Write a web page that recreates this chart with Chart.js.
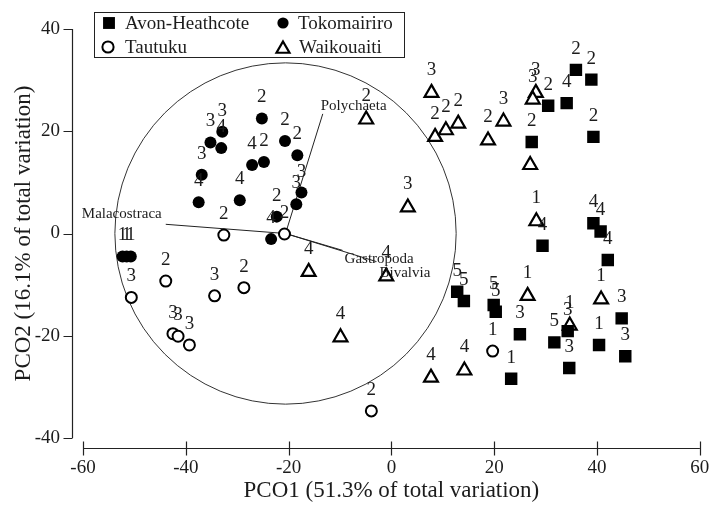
<!DOCTYPE html>
<html>
<head>
<meta charset="utf-8">
<script src="https://cdn.jsdelivr.net/npm/chart.js@4.4.0/dist/chart.umd.min.js"></script>
<style>
  html, body { margin: 0; padding: 0; background: #fff; }
  #wrap { width: 710px; height: 505px; }
</style>
</head>
<body>
<div id="wrap"><canvas id="chart"></canvas></div>
<script>
// PCO ordination, four estuaries; point labels are the site numbers
var avonX = [35.9, 38.9, 34.1, 30.5, 39.3, 27.3, 39.3, 40.7, 42.1, 29.4, 12.8, 14.1, 19.9, 20.3, 25.0, 31.7, 34.3, 34.6, 40.4, 44.8, 45.5, 23.3];
var avonY = [32.0, 30.1, 25.5, 25.0, 18.9, 17.9, 2.0, 0.4, -5.2, -2.4, -11.4, -13.2, -14.0, -15.3, -19.7, -21.3, -19.1, -26.3, -21.8, -16.6, -24.0, -28.4];
var avonLbl = ['2', '2', '4', '2', '2', '2', '4', '4', '4', '4', '5', '5', '5', '5', '3', '5', '3', '3', '1', '3', '3', '1'];

var tokoX = [-25.2, -32.9, -35.2, -33.1, -20.7, -18.3, -24.8, -27.1, -36.9, -37.5, -29.5, -17.5, -18.5, -22.3, -23.4, -52.3, -51.5, -50.7];
var tokoY = [22.5, 19.9, 17.8, 16.7, 18.1, 15.3, 14.0, 13.4, 11.5, 6.1, 6.5, 8.0, 5.7, 3.3, -1.1, -4.5, -4.5, -4.5];
var tokoLbl = ['2', '3', '3', '4', '2', '2', '2', '4', '3', '4', '4', '3', '3', '2', '4', '1', '1', '1'];

var tautX = [-32.6, -20.8, -43.9, -50.6, -34.4, -28.7, -42.5, -41.5, -39.3, -3.9, 19.7];
var tautY = [-0.3, -0.1, -9.3, -12.5, -12.2, -10.6, -19.6, -20.1, -21.8, -34.7, -23.0];
var tautLbl = ['2', '2', '2', '3', '3', '2', '3', '3', '3', '2', '1'];

var waikX = [7.8, 8.5, 10.6, 13.0, 18.8, 21.8, 28.1, 27.5, 27.0, 3.2, -4.9, -16.1, -9.9, -1.0, 28.2, 26.5, 40.8, 34.7, 7.7, 14.2];
var waikY = [27.5, 18.9, 20.2, 21.5, 18.2, 21.9, 27.5, 26.2, 13.4, 5.1, 22.3, -7.5, -20.3, -8.4, 2.4, -12.2, -12.9, -18.0, -28.2, -26.8];
var waikLbl = ['3', '2', '2', '2', '2', '3', '3', '3', '', '3', '2', '4', '4', '4', '1', '1', '1', '1', '4', '4'];

// vector overlay (correlation circle)
var vecNames = ['Polychaeta', 'Malacostraca', 'Gastropoda', 'Bivalvia'];
var vecX = [-13.35, -43.9, -9.5, -2.9];
var vecY = [23.4, 1.8, -3.3, -5.5];
var circleX = -20.6;
var circleY = 0;
var circleR = 33.2;

var xTitle = 'PCO1 (51.3% of total variation)';
var yTitle = 'PCO2 (16.1% of total variation)';

var FONT = '"Liberation Serif", "Times New Roman", serif';
var INK = '#1c1c1c';

function pts(xs, ys) {
  return xs.map(function (x, i) { return { x: x, y: ys[i] }; });
}

var datasets = [
  { label: 'Avon-Heathcote', data: pts(avonX, avonY), pointLabels: avonLbl, labelOff: 21,
    pointStyle: 'rect', pointRadius: 8.8, backgroundColor: '#000', borderColor: '#000', borderWidth: 0, order: 1 },
  { label: 'Tokomairiro', data: pts(tokoX, tokoY), pointLabels: tokoLbl, labelOff: 21,
    pointStyle: 'circle', pointRadius: 6, backgroundColor: '#000', borderColor: '#000', borderWidth: 0, order: 1 },
  { label: 'Tautuku', data: pts(tautX, tautY), pointLabels: tautLbl, labelOff: 21,
    pointStyle: 'circle', pointRadius: 5.5, backgroundColor: '#fff', borderColor: '#000', borderWidth: 2, order: 1 },
  { label: 'Waikouaiti', data: pts(waikX, waikY), pointLabels: waikLbl, labelOff: 23,
    pointStyle: 'triangle', pointRadius: 8, backgroundColor: '#fff', borderColor: '#000', borderWidth: 2.2, order: 1 }
];

vecNames.forEach(function (name, i) {
  datasets.push({
    type: 'line', label: name, vecName: name,
    data: [{ x: circleX, y: circleY }, { x: vecX[i], y: vecY[i] }],
    borderColor: '#222', borderWidth: 1, pointRadius: 0, fill: false, order: 5
  });
});

// circle drawn from its centre/radius through the scales
var circlePlugin = {
  id: 'circle',
  beforeDatasetsDraw: function (chart) {
    var ctx = chart.ctx, sx = chart.scales.x, sy = chart.scales.y;
    var cx = sx.getPixelForValue(circleX), cy = sy.getPixelForValue(circleY);
    var r = sx.getPixelForValue(circleX + circleR) - cx;
    ctx.save();
    ctx.strokeStyle = '#333';
    ctx.lineWidth = 1;
    ctx.beginPath();
    ctx.arc(cx, cy, r, 0, Math.PI * 2);
    ctx.stroke();
    ctx.restore();
  }
};

var labelPlugin = {
  id: 'labels',
  afterDatasetsDraw: function (chart) {
    var ctx = chart.ctx;
    ctx.save();
    ctx.fillStyle = INK;
    chart.data.datasets.forEach(function (ds, i) {
      var meta = chart.getDatasetMeta(i);
      if (ds.pointLabels) {
        ctx.font = '19px ' + FONT;
        ctx.textAlign = 'center';
        ctx.textBaseline = 'middle';
        meta.data.forEach(function (el, j) {
          var t = ds.pointLabels[j];
          if (t) ctx.fillText(t, el.x, el.y - ds.labelOff);
        });
      }
      if (ds.vecName) {
        var tip = meta.data[1];
        ctx.font = '15px ' + FONT;
        ctx.textBaseline = 'middle';
        if (ds.vecName == 'Polychaeta') {
          ctx.textAlign = 'left'; ctx.fillText(ds.vecName, tip.x - 2, tip.y - 8);
        } else if (ds.vecName == 'Malacostraca') {
          ctx.textAlign = 'right'; ctx.fillText(ds.vecName, tip.x - 4, tip.y - 10);
        } else if (ds.vecName == 'Gastropoda') {
          ctx.textAlign = 'left'; ctx.fillText(ds.vecName, tip.x + 2, tip.y + 9);
        } else {
          ctx.textAlign = 'left'; ctx.fillText(ds.vecName, tip.x + 3, tip.y + 11);
        }
      }
    });
    ctx.restore();
  }
};

// axes sit a little away from the plotting region
var axesPlugin = {
  id: 'axes',
  afterDraw: function (chart) {
    var ctx = chart.ctx, area = chart.chartArea, sx = chart.scales.x, sy = chart.scales.y;
    var ax = Math.round(area.left - 11) + 0.5;
    var ay = Math.round(area.bottom + 10) + 0.5;
    ctx.save();
    ctx.strokeStyle = '#222';
    ctx.lineWidth = 1.2;
    ctx.beginPath();
    ctx.moveTo(ax, sy.getPixelForValue(40));
    ctx.lineTo(ax, sy.getPixelForValue(-40));
    sy.ticks.forEach(function (t) {
      var p = Math.round(sy.getPixelForValue(t.value)) + 0.5;
      ctx.moveTo(ax - 9, p);
      ctx.lineTo(ax, p);
    });
    ctx.moveTo(sx.getPixelForValue(-60), ay);
    ctx.lineTo(sx.getPixelForValue(60), ay);
    sx.ticks.forEach(function (t) {
      var p = Math.round(sx.getPixelForValue(t.value)) + 0.5;
      ctx.moveTo(p, ay - 7);
      ctx.lineTo(p, ay + 7);
    });
    ctx.stroke();
    ctx.restore();
  }
};

var legendPlugin = {
  id: 'boxLegend',
  afterDraw: function (chart) {
    var ctx = chart.ctx;
    var spots = [[109, 23, 125], [283, 23, 298], [108, 47, 125], [283, 47, 299]];
    ctx.save();
    ctx.strokeStyle = '#222';
    ctx.lineWidth = 1;
    ctx.strokeRect(94.5, 12.5, 310, 45);
    ctx.font = '19px ' + FONT;
    ctx.textAlign = 'left';
    ctx.textBaseline = 'middle';
    for (var i = 0; i < 4; i++) {
      var ds = chart.data.datasets[i];
      var s = spots[i];
      ctx.fillStyle = ds.backgroundColor;
      ctx.strokeStyle = ds.borderColor;
      ctx.lineWidth = ds.borderWidth;
      var r = ds.pointStyle == 'rect' ? 8.4 : ds.pointStyle == 'triangle' ? 7.5 : 5.6;
      Chart.helpers.drawPoint(ctx, { pointStyle: ds.pointStyle, radius: r, rotation: 0, borderWidth: ds.borderWidth }, s[0], ds.pointStyle == 'triangle' ? s[1] + 2 : s[1]);
      ctx.fillStyle = INK;
      ctx.fillText(ds.label, s[2], s[1] + 1);
    }
    ctx.restore();
  }
};

new Chart(document.getElementById('chart'), {
  type: 'scatter',
  data: { datasets: datasets },
  options: {
    responsive: true,
    maintainAspectRatio: false,
    animation: false,
    layout: { padding: { top: 29, right: 9, left: 0, bottom: 0 } },
    plugins: { legend: { display: false }, tooltip: { enabled: false } },
    scales: {
      x: {
        type: 'linear', min: -60, max: 60,
        grid: { display: false }, border: { display: false },
        ticks: { stepSize: 20, padding: 11, color: INK, font: { family: FONT, size: 19 } },
        title: { display: true, text: xTitle, color: INK, padding: { top: 3, bottom: 0 }, font: { family: FONT, size: 23 } },
        afterFit: function (s) { s.height = 67; s.paddingLeft = 0; s.paddingRight = 0; }
      },
      y: {
        type: 'linear', min: -40, max: 40,
        grid: { display: false }, border: { display: false },
        ticks: { stepSize: 20, padding: 15, color: INK, font: { family: FONT, size: 19 } },
        title: { display: true, text: yTitle, color: INK, padding: { top: 10, bottom: 0 }, font: { family: FONT, size: 23 } },
        afterFit: function (s) { s.width = 83; s.paddingTop = 0; s.paddingBottom = 0; }
      }
    }
  },
  plugins: [circlePlugin, labelPlugin, axesPlugin, legendPlugin]
});
</script>
</body>
</html>
